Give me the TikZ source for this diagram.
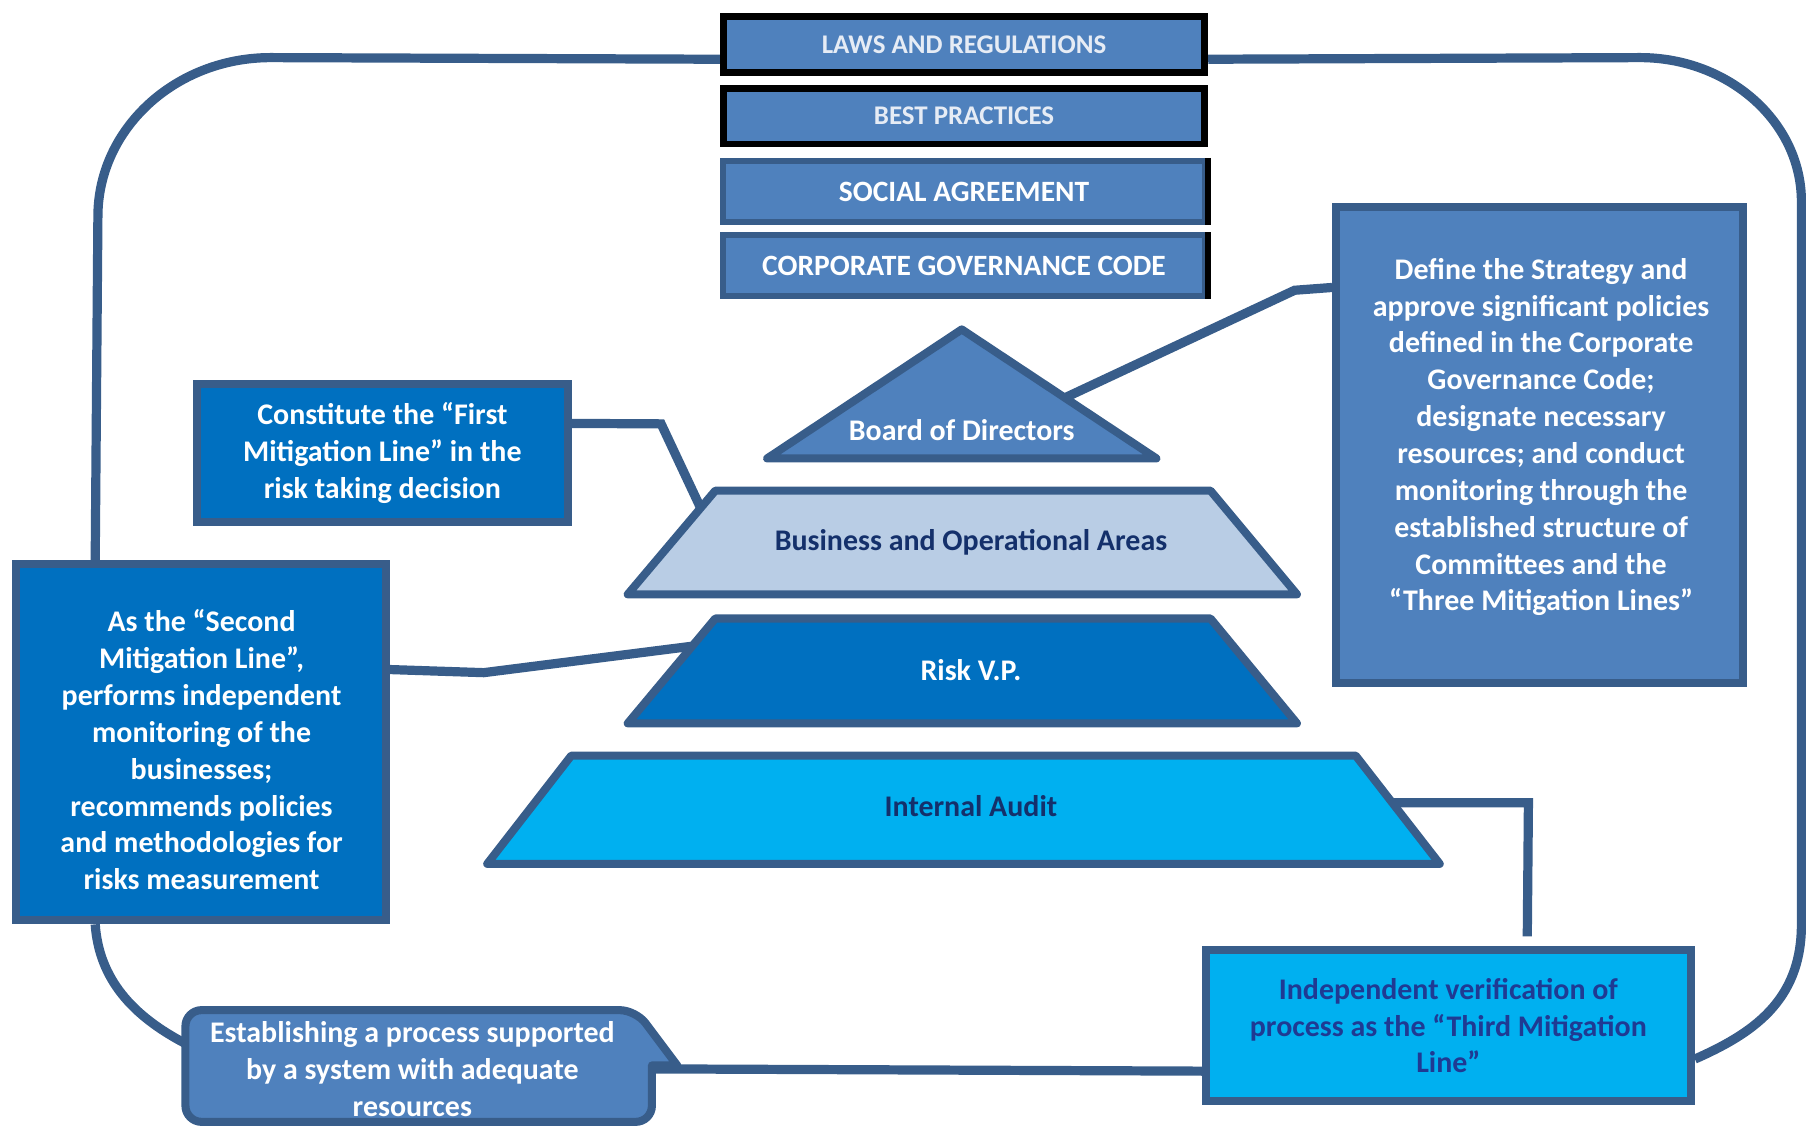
\documentclass[tikz,border=0pt]{standalone}
\usepackage{fontspec}
\setmainfont{Carlito}
\usetikzlibrary{calc}
\definecolor{mblue}{HTML}{4F81BD}
\definecolor{edgeblue}{HTML}{385D8A}
\definecolor{dblue}{HTML}{0070C0}
\definecolor{lblue}{HTML}{B9CDE5}
\definecolor{cyanb}{HTML}{00B0F0}
\definecolor{navy}{HTML}{14306B}
\definecolor{navyb}{HTML}{1F3A93}
\definecolor{pale}{HTML}{E6ECF5}
\begin{document}
\begin{tikzpicture}[x=0.5pt,y=-0.5pt,
  txt/.style={font=\bfseries\fontsize{13pt}{16pt}\selectfont, align=center},
  box/.style={draw=edgeblue, line width=3.5pt, inner sep=0pt, txt, text=white},
  hdrblack/.style={draw=black, line width=3pt, fill=mblue, inner sep=0pt, minimum width=209pt, text=pale, font=\bfseries\fontsize{11.7pt}{14pt}\selectfont},
  hdrblue/.style={draw=edgeblue, line width=2.5pt, fill=mblue, inner sep=0pt, minimum width=209pt, text=white, font=\bfseries\fontsize{12.8pt}{15pt}\selectfont},
  tier/.style={draw=edgeblue, line width=3.5pt, line join=round},
  link/.style={draw=edgeblue, line width=4pt},
]
\useasboundingbox (0,0) rectangle (1568,981);

% header boxes
\node[hdrblack, minimum height=24.5pt] (laws) at (837,38.5) {LAWS AND REGULATIONS};
\node[hdrblack, minimum height=24.25pt] (best) at (837,100.75) {BEST PRACTICES};
\node[hdrblue, minimum height=26.75pt] (social) at (837,166.25) {SOCIAL AGREEMENT};
\node[hdrblue, minimum height=26.5pt] (corp) at (837,230.5) {CORPORATE GOVERNANCE CODE};
\draw[black, line width=2.5pt] (social.north east) -- (social.south east);
\draw[black, line width=2.5pt] (corp.north east) -- (corp.south east);

% side boxes
\node[box, fill=dblue, minimum width=161pt, minimum height=60pt] (first) at (332,393)
  {Constitute the “First\\Mitigation Line” in the\\risk taking decision};
\node[box, fill=dblue, minimum width=160.5pt, minimum height=154.5pt] (second) at (174.5,644.5) {};
\node[txt, text=white] (secondtext) at (175,651)
  {As the “Second\\Mitigation Line”,\\performs independent\\monitoring of the\\businesses;\\recommends policies\\and methodologies for\\risks measurement};
\node[box, fill=mblue, minimum width=176.5pt, minimum height=206.5pt] (rbox) at (1336.5,386.5) {};
\node[txt, text=white] (rtext) at (1338,379.5)
  {Define the Strategy and\\approve significant policies\\defined in the Corporate\\Governance Code;\\designate necessary\\resources; and conduct\\monitoring through the\\established structure of\\Committees and the\\“Three Mitigation Lines”};
\node[box, fill=cyanb, text=navyb, minimum width=210.5pt, minimum height=65.5pt] (third) at (1257.5,890.5)
  {Independent verification of\\process as the “Third Mitigation\\Line”};

% establishing callout
\coordinate (estL) at (161,906);
\coordinate (estR) at (566,928);
\draw[tier, fill=mblue] (161,925) [rounded corners=7pt] -- (161,877) -- (552,877) [sharp corners] -- (588,925) -- (566,925) [rounded corners=7pt] -- (566,974) -- (161,974) -- cycle;
\node[txt, text=white] (est) at (358,928) {Establishing a process supported\\by a system with adequate\\resources};

% pyramid
\coordinate (tA) at (835,286);
\coordinate (tL) at (666,398);
\coordinate (tR) at (1004,398);
\draw[tier, fill=mblue] (tA) -- (tR) -- (tL) -- cycle;
\node[txt, text=white] (board) at (835,373) {Board of Directors};

\coordinate (bTL) at (621,426); \coordinate (bTR) at (1051,426);
\coordinate (bBR) at (1126,516); \coordinate (bBL) at (545,516);
\draw[tier, fill=lblue] (bTL) -- (bTR) -- (bBR) -- (bBL) -- cycle;
\node[txt, text=navy] (bus) at (843,471) {Business and Operational Areas};

\coordinate (rTL) at (621,537); \coordinate (rTR) at (1051,537);
\coordinate (rBR) at (1126,628); \coordinate (rBL) at (545,628);
\draw[tier, fill=dblue] (rTL) -- (rTR) -- (rBR) -- (rBL) -- cycle;
\node[txt, text=white] (risk) at (843,582) {Risk V.P.};

\coordinate (aTL) at (496,656); \coordinate (aTR) at (1177,656);
\coordinate (aBR) at (1250,750); \coordinate (aBL) at (423,750);
\draw[tier, fill=cyanb] (aTL) -- (aTR) -- (aBR) -- (aBL) -- cycle;
\node[txt, text=navy] (audit) at (843,700) {Internal Audit};

% connectors
\draw[link] ($(first.north east)!0.3!(first.south east)$) -- (574,368) -- ($(bTL)!0.167!(bBL)$);
\draw[link] ($(second.north east)!0.30!(second.south east)$) -- (420,584) -- ($(rTL)!0.264!(rBL)$);
\draw[link] ($(rbox.north west)!0.174!(rbox.south west)$) -- (1124,252) -- ($(tA)!0.53!(tR)$);
\coordinate (auditEnd) at (1326,813);
\draw[link] ($(aTR)!0.436!(aBR)$) -- (1327,697) -- (auditEnd);

% outer loop
\draw[link] ($(laws.north west)!0.735!(laws.south west)$) -- (235,50) .. controls (152,50) and (85,112) .. (85,188) -- ($(second.north west)!0.22!(second.north east)$);
\draw[link] ($(second.south west)!0.22!(second.south east)$) .. controls (86,850) and (115,882) .. (estL);
\draw[link] ($(laws.north east)!0.735!(laws.south east)$) -- (1424,50) .. controls (1501,50) and (1564,106) .. (1564,175) -- (1564,803) .. controls (1564,870) and (1520,898) .. ($(third.north east)!0.71!(third.south east)$);
\draw[link] (estR) -- ($(third.north west)!0.786!(third.south west)$);
\end{tikzpicture}
\end{document}
